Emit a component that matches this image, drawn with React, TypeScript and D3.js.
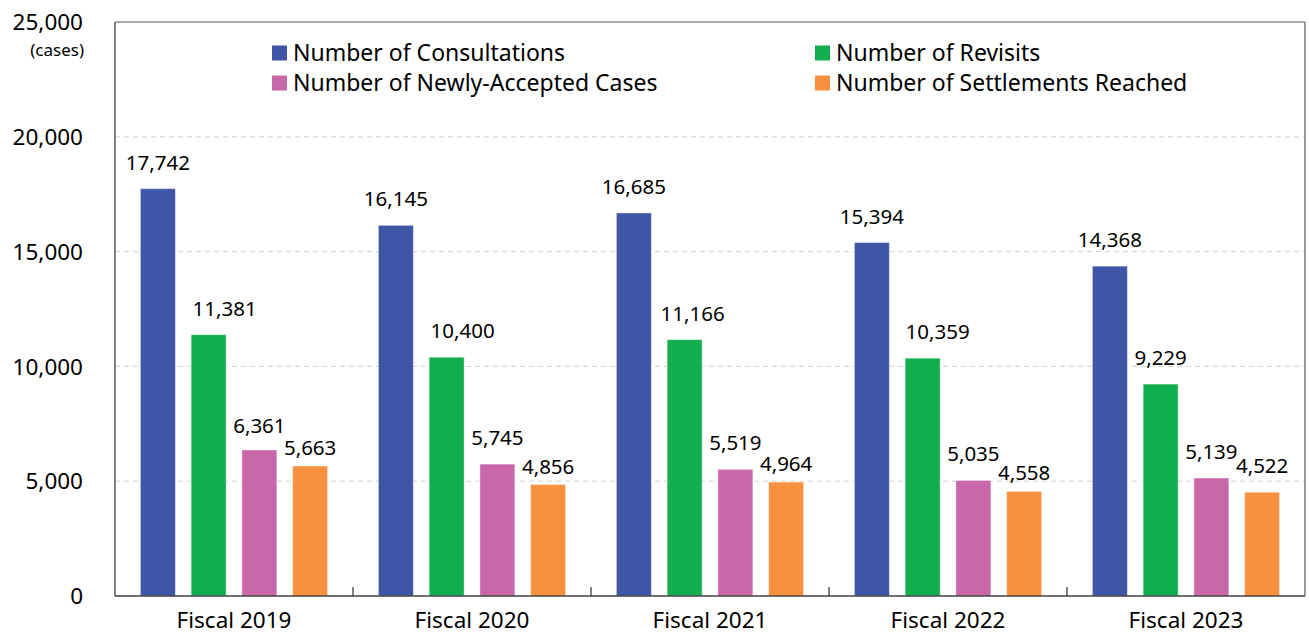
import React from "react";
import * as d3 from "d3";

const categories = ["Fiscal 2019", "Fiscal 2020", "Fiscal 2021", "Fiscal 2022", "Fiscal 2023"];
const seriesNames = [
  "Number of Consultations",
  "Number of Revisits",
  "Number of Newly-Accepted Cases",
  "Number of Settlements Reached",
];
const consultations = [17742, 16145, 16685, 15394, 14368];
const revisits = [11381, 10400, 11166, 10359, 9229];
const newlyAccepted = [6361, 5745, 5519, 5035, 5139];
const settlements = [5663, 4856, 4964, 4558, 4522];
const yTicks = [0, 5000, 10000, 15000, 20000, 25000];

const seriesValues = [consultations, revisits, newlyAccepted, settlements];
const colors = ["#3F55A5", "#12AD4C", "#C868A8", "#F79140"];
// manual label nudges seen in the original (px)
const labelDx = [
  [0, 0, 0, 0, 0],
  [16, 16, 8, 15, 0],
  [0, 0, 0, 0, 0],
  [0, 0, 0, 0, 0],
];
const labelDy = [
  [0, 0, 0, 0, 0],
  [0, 0, 0, 0, 0],
  [2, 0, 0, 0, 0],
  [8, 8, 8, 8, 0],
];

const FONT = "'Noto Sans', sans-serif";

export default function App() {
  const W = 1309;
  const H = 635;
  const left = 115;
  const right = 1305;
  const top = 22;
  const bottom = 596;

  const x0 = d3.scaleBand<string>().domain(categories).range([left, right]).padding(0);
  const x1 = d3
    .scaleBand<number>()
    .domain([0, 1, 2, 3])
    .range([0, x0.bandwidth()])
    .paddingInner(0.31)
    .paddingOuter(0.5);
  const y = d3.scaleLinear().domain([0, 25000]).range([bottom, top]);
  const fmt = d3.format(",");

  const boundaries = categories.slice(1).map((c) => x0(c) as number);

  const legendItems = [
    { i: 0, x: 272, y: 53 },
    { i: 1, x: 815, y: 53 },
    { i: 2, x: 272, y: 83 },
    { i: 3, x: 815, y: 83 },
  ];

  return (
    <svg
      width={W}
      height={H}
      style={{ position: "absolute", left: 0, top: 0, background: "#fff" }}
      fontFamily={FONT}
    >
      {/* gridlines */}
      {yTicks
        .filter((t) => t > 0 && t < 25000)
        .map((t) => (
          <line
            key={"g" + t}
            x1={left}
            x2={right}
            y1={y(t)}
            y2={y(t)}
            stroke="#D0D0D0"
            strokeWidth={1}
            strokeDasharray="5,4"
          />
        ))}
      {/* frame */}
      <line x1={left} x2={right} y1={top} y2={top} stroke="#595959" strokeWidth={1.2} />
      <line x1={right} x2={right} y1={top} y2={bottom} stroke="#595959" strokeWidth={1.2} />

      {/* bars */}
      {categories.map((c, ci) =>
        seriesValues.map((vals, si) => {
          const bx = (x0(c) as number) + (x1(si) as number);
          const v = vals[ci];
          return (
            <rect
              key={c + si}
              x={bx}
              y={y(v)}
              width={x1.bandwidth()}
              height={bottom - y(v)}
              fill={colors[si]}
              stroke="#ffffff"
              strokeOpacity={0.45}
              strokeWidth={1}
            />
          );
        })
      )}

      {/* value labels */}
      {categories.map((c, ci) =>
        seriesValues.map((vals, si) => {
          const bx = (x0(c) as number) + (x1(si) as number) + x1.bandwidth() / 2;
          const v = vals[ci];
          return (
            <text
              key={"l" + c + si}
              x={bx + labelDx[si][ci]}
              y={y(v) - 19 + labelDy[si][ci]}
              textAnchor="middle"
              fontSize={20.5}
              fill="#000"
            >
              {fmt(v)}
            </text>
          );
        })
      )}

      {/* axes */}
      <line x1={left} x2={left} y1={top} y2={bottom} stroke="#404040" strokeWidth={1.3} />
      <line x1={left} x2={right} y1={bottom} y2={bottom} stroke="#404040" strokeWidth={1.3} />
      {boundaries.map((bx, i) => (
        <line key={"t" + i} x1={bx} x2={bx} y1={bottom} y2={bottom - 9} stroke="#404040" strokeWidth={1.3} />
      ))}

      {/* y tick labels */}
      {yTicks.map((t) => (
        <text key={"y" + t} x={83} y={y(t)} dy="0.36em" textAnchor="end" fontSize={22.5} fill="#000">
          {fmt(t)}
        </text>
      ))}
      <text x={84} y={50} dy="0.35em" textAnchor="end" fontSize={17} fill="#000">
        (cases)
      </text>

      {/* x labels */}
      {categories.map((c) => (
        <text
          key={"x" + c}
          x={(x0(c) as number) + x0.bandwidth() / 2}
          y={628}
          textAnchor="middle"
          fontSize={22.5}
          fill="#000"
        >
          {c}
        </text>
      ))}

      {/* legend */}
      {legendItems.map((it) => (
        <g key={"lg" + it.i}>
          <rect x={it.x} y={it.y - 7.5} width={15} height={15} fill={colors[it.i]} />
          <text x={it.x + 21} y={it.y} dy="0.36em" fontSize={23} fill="#000">
            {seriesNames[it.i]}
          </text>
        </g>
      ))}
    </svg>
  );
}
